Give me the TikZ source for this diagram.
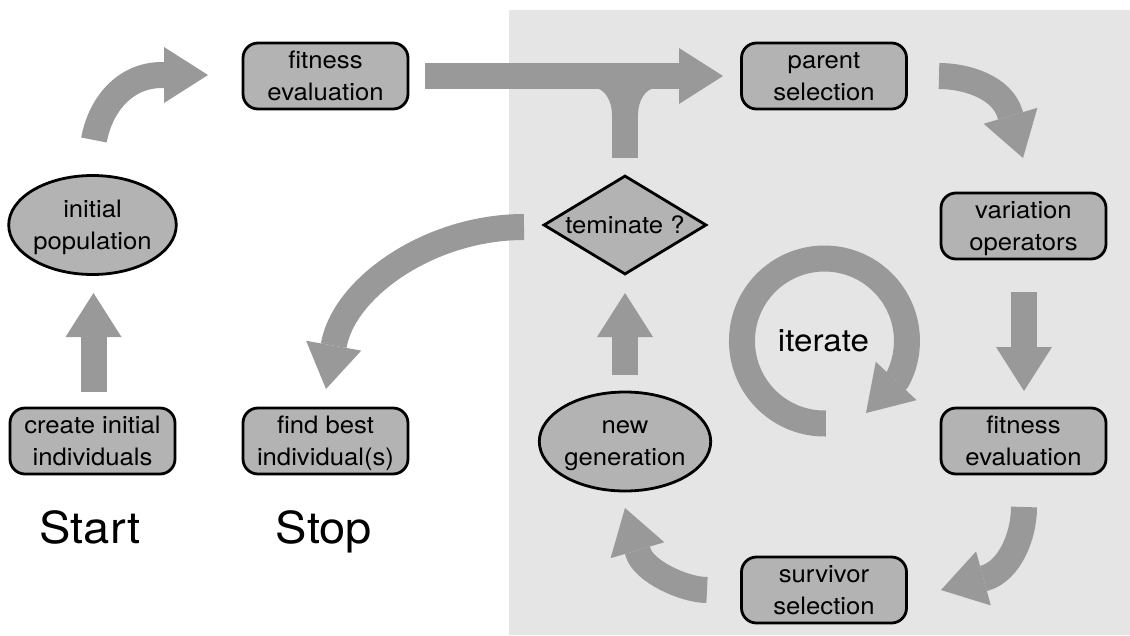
\documentclass[tikz,border=0pt]{standalone}
\usepackage{fontspec}
\setmainfont{TeX Gyre Heros}[FakeStretch=1.07]
\usetikzlibrary{shapes.geometric,arrows.meta}
\definecolor{bgg}{gray}{0.898}
\definecolor{arrg}{gray}{0.6}
\definecolor{boxg}{gray}{0.702}
\newcommand\twol[2]{\vrule width0pt height16pt\relax#1\\\smash{#2}}
\begin{document}
\begin{tikzpicture}[x=1pt,y=-1pt,
  txt/.style={font=\fontsize{24}{32}\selectfont},
  box/.style={txt, draw=black, line width=2.8pt, fill=boxg, rounded corners=15pt,
    minimum width=165pt, minimum height=66pt, inner sep=0pt, align=center},
  ell/.style={txt, draw=black, ellipse, line width=2.8pt, fill=boxg,
    minimum width=166pt, minimum height=99pt, inner sep=0pt, align=center},
  dia/.style={txt, draw=black, diamond, aspect=1.65, line width=2.8pt, fill=boxg,
    minimum width=163pt, minimum height=99pt, inner sep=0pt},
  bigarrow/.style={draw=arrg, line width=26pt, line join=round,
    -{Triangle[length=44pt,width=56pt,line width=0pt]}},
  shaft/.style={draw=arrg, line width=26pt},
  fillet/.style={fill=arrg},
  big/.style={font=\fontsize{44}{52}\selectfont, anchor=base},
  mid/.style={font=\fontsize{31}{38}\selectfont, anchor=base}]
\useasboundingbox (0,0) rectangle (1130,635);
\fill[bgg] (509,9.5) rectangle (1130,635);

% nodes
\node[box] (create) at (92.5,441) {\twol{create initial}{individuals}};
\node[ell] (initpop) at (92.5,225) {\twol{initial}{population}};
\node[box] (fit1) at (325.5,76) {\twol{fitness}{evaluation}};
\node[box] (best) at (325.5,441) {\twol{find best}{individual(s)}};
\node[dia] (term) at (625,225) {teminate ?};
\node[box] (parent) at (824,76) {\twol{parent}{selection}};
\node[box] (var) at (1023.5,226) {\twol{variation}{operators}};
\node[box] (fit2) at (1023.5,441) {\twol{fitness}{evaluation}};
\node[box] (surv) at (824,590) {\twol{survivor}{selection}};
\node[ell] (newgen) at (625,441.5) {\twol{new}{generation}};
\node[big] (start) at (90,543) {Start};
\node[big] (stop) at (324,543) {Stop};
\node[mid] (iter) at (823.5,351) {iterate};

% connector end points
\coordinate (a1) at (93.5,392);   \coordinate (a2) at (93.5,293);
\coordinate (b1) at (94,140);     \coordinate (b2) at (162,75);    \coordinate (b3) at (208,75);
\coordinate (c1) at (425,76);     \coordinate (c2) at (723,76);
\coordinate (t1) at (625,158);    \coordinate (t2) at (625,76);
\coordinate (d1) at (939,76);     \coordinate (d2) at (1010,114);  \coordinate (d3) at (1023,158);
\coordinate (e1) at (1024,292);   \coordinate (e2) at (1024,391);
\coordinate (f1) at (1024,507);   \coordinate (f2) at (985,578);   \coordinate (f3) at (941,590);
\coordinate (g1) at (707,590);    \coordinate (g2) at (638,552);   \coordinate (g3) at (625,508);
\coordinate (h1) at (625,375);    \coordinate (h2) at (625,293);
\coordinate (i1) at (524,227);    \coordinate (i2) at (334,344);   \coordinate (i3) at (326,389);
\coordinate (j1) at (825.9,423.5);\coordinate (j3) at (866,413);

% connectors
\draw[bigarrow] (a1) -- (a2);
\draw[bigarrow] (b1) .. controls (100,106) and (124,75) .. (b2) -- (b3);
\draw[bigarrow] (c1) -- (c2);
\draw[shaft] (t1) -- (t2);
\fill[fillet] (612,115) -- (612,88) -- (594,88) .. controls (604,88) and (612,100) .. (612,115) -- cycle;
\fill[fillet] (638,115) -- (638,88) -- (656,88) .. controls (646,88) and (638,100) .. (638,115) -- cycle;
\draw[bigarrow] (d1) .. controls (966,76) and (1002,87) .. (d2) -- (d3);
\draw[bigarrow] (e1) -- (e2);
\draw[bigarrow] (f1) .. controls (1024,537) and (1009,571) .. (f2) -- (f3);
\draw[bigarrow] (g1) .. controls (684,590) and (643,571) .. (g2) -- (g3);
\draw[bigarrow] (h1) -- (h2);
\draw[bigarrow] (i1) .. controls (430,227) and (345,287) .. (i2) -- (i3);
\draw[bigarrow] (j1) arc[start angle=-89, end angle=-388, radius=82.5pt] -- (j3);
\end{tikzpicture}
\end{document}
